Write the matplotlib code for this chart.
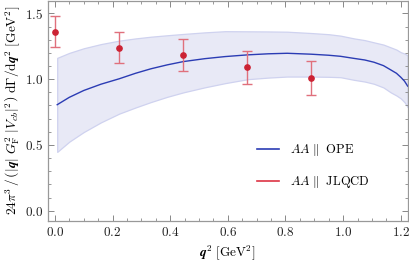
import matplotlib
matplotlib.use("Agg")
import matplotlib.pyplot as plt
from matplotlib.ticker import MultipleLocator, FuncFormatter
from matplotlib.lines import Line2D

plt.rcParams['mathtext.fontset'] = 'cm'
plt.rcParams['font.family'] = 'DejaVu Serif'

# OPE prediction (central and band)
ope_q2 = [0.008, 0.05, 0.1, 0.16, 0.223, 0.28, 0.333, 0.39, 0.446, 0.52, 0.591, 0.669, 0.74, 0.806, 0.889, 0.95, 0.991, 1.038, 1.075, 1.107, 1.14, 1.165, 1.185, 1.2, 1.213, 1.224]
ope_central = [0.806, 0.862, 0.914, 0.962, 1.003, 1.045, 1.079, 1.109, 1.134, 1.156, 1.172, 1.185, 1.193, 1.197, 1.19, 1.182, 1.174, 1.158, 1.146, 1.129, 1.103, 1.071, 1.045, 1.015, 0.985, 0.947]
ope_upper = [1.162, 1.20, 1.235, 1.267, 1.293, 1.31, 1.323, 1.334, 1.344, 1.356, 1.365, 1.364, 1.363, 1.361, 1.351, 1.342, 1.331, 1.31, 1.297, 1.28, 1.263, 1.242, 1.225, 1.205, 1.195, 1.18]
ope_lower = [0.447, 0.525, 0.598, 0.672, 0.738, 0.785, 0.826, 0.866, 0.90, 0.938, 0.97, 1.0, 1.012, 1.02, 1.02, 1.018, 1.015, 0.995, 0.982, 0.965, 0.937, 0.90, 0.876, 0.854, 0.825, 0.788]

# JLQCD lattice points
lat_q2 = [0.0, 0.2226, 0.445, 0.668, 0.89]
lat_val = [1.362, 1.238, 1.183, 1.092, 1.01]
lat_err = [0.118, 0.118, 0.122, 0.125, 0.128]

fig = plt.figure(figsize=(4.09, 2.67), dpi=100)
ax = fig.add_axes([0.1166, 0.1734, 0.8802, 0.8236])

ax.fill_between(ope_q2, ope_lower, ope_upper, facecolor='#e8e9f6', edgecolor='#cfd2ef', linewidth=0.9, zorder=1)
ax.plot(ope_q2, ope_central, color='#2b3cb4', linewidth=1.0, zorder=2)
ax.errorbar(lat_q2, lat_val, yerr=lat_err, fmt='none', ecolor='#e0707c', elinewidth=1.0, capsize=3.5, capthick=1.0, zorder=3)
ax.plot(lat_q2, lat_val, 'o', color='#cc2233', markersize=3.8, zorder=4)

ax.set_xlim(-0.025, 1.224)
ax.set_ylim(-0.076, 1.596)

ax.xaxis.set_major_locator(MultipleLocator(0.2))
ax.xaxis.set_minor_locator(MultipleLocator(0.05))
ax.yaxis.set_major_locator(MultipleLocator(0.5))
ax.yaxis.set_minor_locator(MultipleLocator(0.1))
fmt = FuncFormatter(lambda v, p: r'$%.1f$' % v)
ax.xaxis.set_major_formatter(fmt)
ax.yaxis.set_major_formatter(fmt)
ax.tick_params(which='both', direction='in', top=True, right=True, color='#888888', labelsize=9.5, labelcolor='#222222')
ax.tick_params(which='major', length=4.5, width=0.7)
ax.tick_params(which='minor', length=2.5, width=0.6)
for s in ax.spines.values():
    s.set_color('#999999')
    s.set_linewidth(0.9)

ax.set_xlabel(r'$\mathbfit{q}^2\ [\mathrm{GeV}^2]$', fontsize=9.5, labelpad=3)
ax.set_ylabel(r'$24\pi^3\,/\,\left(|\mathbfit{q}|\ G_\mathrm{F}^2\ |V_{cb}|^2\right)\ \mathrm{d}\Gamma/\mathrm{d}\mathbfit{q}^2\ [\mathrm{GeV}^2]$', fontsize=9.6, labelpad=2)

handles = [Line2D([], [], color='#2b3cb4', linewidth=1.2),
           Line2D([], [], color='#dd3344', linewidth=1.2)]
labels = [r'$AA\ \|\ \ \mathrm{OPE}$', r'$AA\ \|\ \ \mathrm{JLQCD}$']
ax.legend(handles, labels, loc='upper left', bbox_to_anchor=(0.581, 0.358), frameon=False, fontsize=9,
          handlelength=1.75, handletextpad=0.9, labelspacing=1.3, borderpad=0, borderaxespad=0)

fig.savefig('out.png', dpi=100)
